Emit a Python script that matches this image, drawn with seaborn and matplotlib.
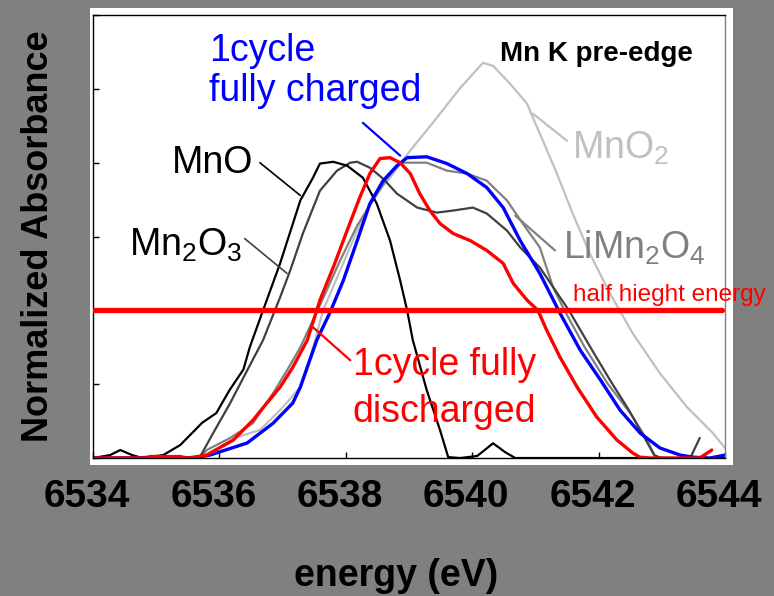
import seaborn as sns
import matplotlib.pyplot as plt
from matplotlib.patches import Rectangle
from matplotlib.transforms import ScaledTranslation

# Espectros: energia (eV) y absorbancia normalizada
mno_e = [6534.0, 6534.27, 6534.43, 6534.62, 6534.78, 6535.11, 6535.38, 6535.73, 6535.95,
         6536.16, 6536.38, 6536.48, 6536.69, 6536.96, 6537.28, 6537.48, 6537.59, 6537.80,
         6538.02, 6538.27, 6538.49, 6538.70, 6538.86, 6538.97, 6539.06, 6539.28, 6539.49,
         6539.62, 6539.81, 6540.08, 6540.33, 6540.52, 6540.68, 6544.0]
mno_a = [0.0, 0.01, 0.027, 0.01, 0.0, 0.01, 0.044, 0.12, 0.152,
         0.23, 0.30, 0.375, 0.5, 0.659, 0.872, 0.949, 0.997, 1.003,
         0.99, 0.949, 0.861, 0.736, 0.601, 0.5, 0.399, 0.23, 0.095,
         0.003, 0.0, 0.007, 0.05, 0.02, 0.0, 0.0]

mn2o3_e = [6534.0, 6535.69, 6535.90, 6536.17, 6536.44, 6536.69, 6536.96, 6537.12, 6537.32,
           6537.59, 6537.86, 6538.07, 6538.18, 6538.38, 6538.59, 6538.81, 6539.13, 6539.44,
           6539.70, 6540.01, 6540.23, 6540.55, 6540.76, 6541.07, 6541.39, 6541.53, 6541.87,
           6542.18, 6542.48, 6542.72, 6542.88, 6542.99, 6543.45, 6543.60]
mn2o3_a = [0.0, 0.003, 0.084, 0.186, 0.297, 0.399, 0.544, 0.635, 0.760,
           0.905, 0.973, 1.0, 1.003, 0.983, 0.946, 0.895, 0.848, 0.831,
           0.838, 0.848, 0.828, 0.770, 0.713, 0.645, 0.544, 0.5, 0.375,
           0.264, 0.162, 0.071, 0.01, 0.0, 0.0, 0.068]

limn2o4_e = [6534.0, 6535.69, 6535.80, 6536.17, 6536.53, 6536.85, 6537.07, 6537.28, 6537.59,
             6537.91, 6538.18, 6538.43, 6538.65, 6538.86, 6539.28, 6539.60, 6539.92, 6540.23,
             6540.55, 6540.80, 6541.07, 6541.28, 6541.46, 6541.78, 6542.14, 6542.50, 6542.74,
             6542.90, 6543.13]
limn2o4_a = [0.0, 0.003, 0.027, 0.068, 0.118, 0.220, 0.297, 0.375, 0.517,
             0.669, 0.787, 0.872, 0.946, 1.0, 1.0, 0.973, 0.963, 0.939,
             0.872, 0.794, 0.713, 0.578, 0.5, 0.375, 0.253, 0.152, 0.071,
             0.003, 0.0]

mno2_e = [6534.0, 6534.74, 6534.85, 6535.01, 6535.14, 6535.69, 6536.28, 6536.64, 6536.96,
          6537.28, 6537.47, 6537.64, 6537.91, 6538.18, 6538.43, 6538.70, 6539.02, 6539.44,
          6539.81, 6540.17, 6540.33, 6540.60, 6540.87, 6540.96, 6541.12, 6541.34, 6541.59,
          6541.86, 6542.18, 6542.54, 6542.97, 6543.40, 6543.81, 6544.0]
mno2_a = [0.0, 0.0, 0.007, 0.007, 0.0, 0.0, 0.071, 0.095, 0.162,
          0.240, 0.365, 0.5, 0.635, 0.770, 0.882, 0.949, 1.041, 1.152,
          1.253, 1.338, 1.328, 1.267, 1.199, 1.152, 1.074, 0.963, 0.828,
          0.693, 0.557, 0.422, 0.287, 0.172, 0.084, 0.034]

charged_e = [6534.0, 6535.58, 6535.85, 6536.44, 6536.85, 6537.16, 6537.28, 6537.54, 6537.75,
             6537.96, 6538.18, 6538.38, 6538.59, 6538.81, 6538.97, 6539.28, 6539.60, 6539.92,
             6540.23, 6540.49, 6540.76, 6541.07, 6541.39, 6541.71, 6542.03, 6542.34, 6542.66,
             6542.97, 6543.29, 6543.49, 6543.76, 6544.0]
charged_a = [0.0, 0.0, 0.01, 0.051, 0.118, 0.186, 0.240, 0.399, 0.493,
             0.601, 0.736, 0.861, 0.939, 0.990, 1.017, 1.020, 0.997, 0.963,
             0.916, 0.848, 0.736, 0.625, 0.490, 0.365, 0.264, 0.162, 0.084,
             0.034, 0.01, 0.003, 0.0, 0.01]

discharged_e = [6534.0, 6534.85, 6534.90, 6535.38, 6535.50, 6535.80, 6536.22, 6536.53, 6536.75,
                6536.96, 6537.16, 6537.39, 6537.54, 6537.59, 6537.80, 6538.02, 6538.22, 6538.38,
                6538.54, 6538.70, 6538.86, 6539.02, 6539.17, 6539.33, 6539.49, 6539.70, 6539.97,
                6540.23, 6540.49, 6540.65, 6540.87, 6541.04, 6541.18, 6541.39, 6541.66, 6541.97,
                6542.29, 6542.54, 6542.65, 6542.81, 6543.60, 6543.79]
discharged_a = [0.0, 0.0, 0.005, 0.005, 0.0, 0.01, 0.061, 0.128, 0.186,
                0.240, 0.307, 0.399, 0.5, 0.534, 0.645, 0.770, 0.882, 0.963,
                1.014, 1.017, 1.0, 0.963, 0.895, 0.838, 0.794, 0.760, 0.736,
                0.703, 0.659, 0.591, 0.534, 0.5, 0.432, 0.341, 0.240, 0.139,
                0.061, 0.017, 0.003, 0.0, 0.0, 0.027]

half_height = 0.5
x_ticks = [6534, 6536, 6538, 6540, 6542, 6544]
y_ticks = [0, 0.25, 0.5, 0.75, 1.0, 1.25, 1.5]

sns.set_style("ticks")
plt.rcParams['font.family'] = ['Liberation Sans', 'DejaVu Sans']
plt.rcParams['mathtext.fontset'] = 'custom'
plt.rcParams['mathtext.rm'] = 'Liberation Sans'
plt.rcParams['mathtext.default'] = 'regular'
plt.rcParams['text.color'] = 'black'
plt.rcParams['axes.labelcolor'] = 'black'
plt.rcParams['xtick.color'] = 'black'
plt.rcParams['ytick.color'] = 'black'

fig = plt.figure(figsize=(7.74, 5.96), dpi=100, facecolor='#808080')
fig.patches.append(Rectangle((0.1163, 0.2198), 0.8307, 0.7668, transform=fig.transFigure,
                             facecolor='white', edgecolor='none', zorder=-10))
ax = fig.add_axes([0.1202, 0.2315, 0.8165, 0.7433])
ax.set_facecolor('white')

sns.lineplot(x=mno2_e, y=mno2_a, ax=ax, color='#c0c0c0', lw=1.6, sort=False)
sns.lineplot(x=limn2o4_e, y=limn2o4_a, ax=ax, color='#808080', lw=1.6, sort=False)
sns.lineplot(x=mn2o3_e, y=mn2o3_a, ax=ax, color='#404040', lw=1.6, sort=False)
sns.lineplot(x=mno_e, y=mno_a, ax=ax, color='black', lw=1.6, sort=False)
sns.lineplot(x=charged_e, y=charged_a, ax=ax, color='#0000ff', lw=2.4, sort=False)
sns.lineplot(x=discharged_e, y=discharged_a, ax=ax, color='#ff0000', lw=2.4, sort=False)

# linea de media altura
ax.axhline(half_height, xmin=0, xmax=0.995, color='#ff0000', lw=3.8, zorder=5)
ax.text(6541.59, 0.53, 'half hieght energy', color='#ff0000', fontsize=17.5,
        ha='left', va='baseline', clip_on=False)

# etiquetas de las curvas
ax.text(6536.53, 0.966, 'MnO', color='black', fontsize=27, ha='right', va='baseline')
ax.annotate('', xy=(6537.28, 0.889), xytext=(6536.64, 1.0),
            arrowprops=dict(arrowstyle='-', color='black', lw=1.2, shrinkA=0, shrinkB=0))
ax.text(6536.36, 0.686, r'Mn$_2$O$_3$', color='black', fontsize=27, ha='right', va='baseline')
ax.annotate('', xy=(6537.07, 0.625), xytext=(6536.40, 0.743),
            arrowprops=dict(arrowstyle='-', color='#404040', lw=1.2, shrinkA=0, shrinkB=0))
ax.text(6541.58, 1.014, r'MnO$_2$', color='#c0c0c0', fontsize=27, ha='left', va='baseline')
ax.annotate('', xy=(6541.50, 1.074), xytext=(6540.96, 1.166),
            arrowprops=dict(arrowstyle='-', color='#c0c0c0', lw=1.6, shrinkA=0, shrinkB=0))
ax.text(6541.44, 0.676, r'LiMn$_2$O$_4$', color='#808080', fontsize=27, ha='left', va='baseline')
ax.annotate('', xy=(6541.31, 0.703), xytext=(6540.68, 0.821),
            arrowprops=dict(arrowstyle='-', color='#808080', lw=1.6, shrinkA=0, shrinkB=0))
ax.text(6535.84, 1.345, '1cycle', color='#0000ff', fontsize=27, ha='left', va='baseline')
ax.text(6535.84, 1.209, 'fully charged', color='#0000ff', fontsize=27, ha='left', va='baseline')
ax.annotate('', xy=(6538.86, 1.024), xytext=(6538.27, 1.135),
            arrowprops=dict(arrowstyle='-', color='#0000ff', lw=1.6, shrinkA=0, shrinkB=0))
ax.text(6538.11, 0.280, '1cycle fully', color='#ff0000', fontsize=27, ha='left', va='baseline')
ax.text(6538.11, 0.122, 'discharged', color='#ff0000', fontsize=27, ha='left', va='baseline')
ax.annotate('', xy=(6538.07, 0.331), xytext=(6537.48, 0.443),
            arrowprops=dict(arrowstyle='-', color='#ff0000', lw=1.6, shrinkA=0, shrinkB=0))
ax.text(6540.44, 1.345, 'Mn K pre-edge', color='black', fontsize=20, fontweight='bold',
        ha='left', va='baseline')

ax.set_xlim(6534, 6544)
ax.set_ylim(0, 1.5)
ax.set_xticks(x_ticks)
ax.set_xticklabels([str(t) for t in x_ticks], fontsize=28, fontweight='bold')
ax.set_yticks(y_ticks)
ax.set_yticklabels([])
ax.tick_params(direction='in', length=4, width=1, pad=15, colors='black')
# las etiquetas del eje x estan algo corridas a la izquierda en el original
shift = ScaledTranslation(-6 / 100, 0, fig.dpi_scale_trans)
for lab in ax.get_xticklabels():
    lab.set_transform(lab.get_transform() + shift)
for s in ax.spines.values():
    s.set_color('black')
    s.set_linewidth(1)
ax.spines['right'].set_color('#808080')

ax.set_xlabel('energy (eV)', fontsize=27, fontweight='bold', labelpad=31)
ax.xaxis.label.set_x(0.479)
ax.set_ylabel('Normalized Absorbance', fontsize=26, fontweight='bold', labelpad=12)

plt.savefig('out.png', dpi=100, facecolor=fig.get_facecolor())
